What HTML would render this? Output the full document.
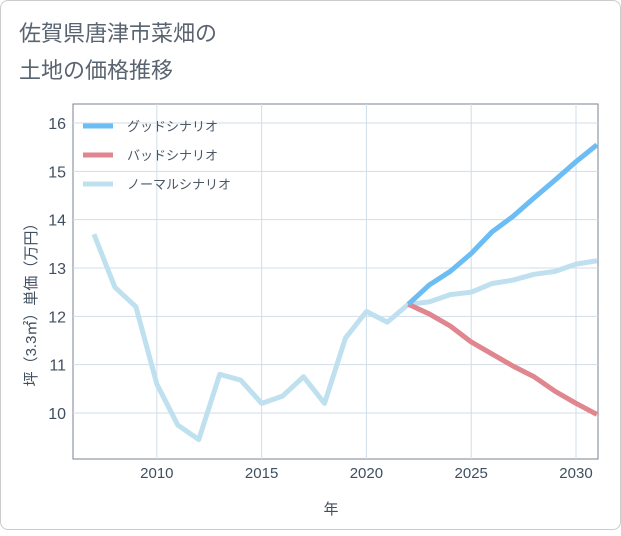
<!DOCTYPE html>
<html><head><meta charset="utf-8"><style>
body{margin:0;background:#fff;}
#card{position:absolute;left:0;top:0;width:619px;height:528px;border:1px solid #ccc;border-radius:8px;background:#fff;}
text{font-family:"Liberation Sans","Noto Sans CJK JP",sans-serif;}
</style></head><body>
<div id="card">
<svg id="chart" width="621" height="530">
<text x="18" y="40" font-size="22" fill="#5a6470">佐賀県唐津市菜畑の</text>
<text x="18" y="77" font-size="22" fill="#5a6470">土地の価格推移</text>
<g id="grid"></g><g id="series"></g><g id="legend"></g>
<text x="330" y="513" font-size="15" fill="#3f4f60" text-anchor="middle">年</text>
<text transform="translate(35,300) rotate(-90)" font-size="15" fill="#3f4f60" text-anchor="middle">坪（3.3㎡）単価（万円）</text>
</svg></div>
<script>
const years=[2007,2008,2009,2010,2011,2012,2013,2014,2015,2016,2017,2018,2019,2020,2021,2022,2023,2024,2025,2026,2027,2028,2029,2030,2031];
const normal=[13.7,12.6,12.2,10.6,9.75,9.45,10.8,10.68,10.2,10.35,10.75,10.2,11.55,12.1,11.88,12.25,12.3,12.45,12.5,12.68,12.75,12.87,12.93,13.08,13.15];
const futureYears=[2022,2023,2024,2025,2026,2027,2028,2029,2030,2031];
const good=[12.25,12.65,12.93,13.3,13.75,14.07,14.45,14.82,15.2,15.55];
const bad=[12.25,12.05,11.8,11.47,11.22,10.97,10.75,10.45,10.2,9.97];
const xTicks=[2010,2015,2020,2025,2030];
const yTicks=[10,11,12,13,14,15,16];
const X0=72,X1=597,Y0=103,Y1=458;
const x=y=>X0+(y-2006)/(2031.05-2006)*(X1-X0);
const yv=v=>412-(v-10)*48.33;
const NS='http://www.w3.org/2000/svg';
function mk(t,a,p){const e=document.createElementNS(NS,t);for(const k in a)e.setAttribute(k,a[k]);p.appendChild(e);return e;}
const grid=document.getElementById('grid');
const frame=mk('rect',{x:X0,y:Y0,width:X1-X0,height:Y1-Y0,fill:'none',stroke:'#7a8290',"stroke-width":1},grid);


xTicks.forEach(t=>{const l=mk('line',{x1:x(t),x2:x(t),y1:Y0,y2:Y1,stroke:'#d0dde8'},grid);


const tx=mk('text',{x:x(t),y:477,"font-size":15,fill:'#3f4f60',"text-anchor":'middle'},grid);tx.textContent=t;

});
yTicks.forEach(t=>{const l=mk('line',{x1:X0,x2:X1,y1:yv(t),y2:yv(t),stroke:'#d0dde8'},grid);


const tx=mk('text',{x:65,y:yv(t)+6,"font-size":16,fill:'#3f4f60',"text-anchor":'end'},grid);tx.textContent=t;

});
const S=document.getElementById('series');
function line(xs,vs,c,name){const p=mk('polyline',{points:xs.map((t,i)=>x(t)+','+yv(vs[i])).join(' '),fill:'none',stroke:c,"stroke-width":5,"stroke-linejoin":'round'},S);

}
line(years,normal,'#bfe0ee','normal-scenario-line');
line(futureYears,bad,'#e0868f','bad-scenario-line');
line(futureYears,good,'#6bbdf3','good-scenario-line');
const L=document.getElementById('legend');
[['グッドシナリオ','#6bbdf3'],['バッドシナリオ','#e0868f'],['ノーマルシナリオ','#bfe0ee']].forEach((d,i)=>{const yy=125+i*29;
const sw=mk('line',{x1:82,x2:112,y1:yy,y2:yy,stroke:d[1],"stroke-width":5},L);


const t=mk('text',{x:126,y:yy+5,"font-size":13,fill:'#4a5866'},L);t.textContent=d[0];

});
</script>
</body></html>
